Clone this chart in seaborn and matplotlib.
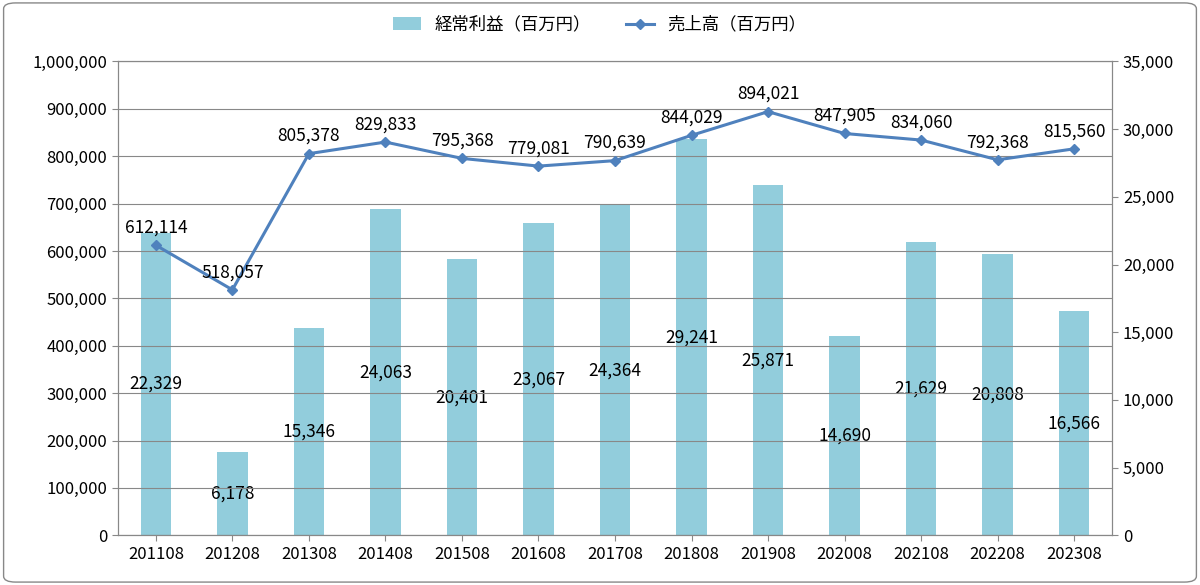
import matplotlib
matplotlib.use("Agg")
import matplotlib.pyplot as plt
from matplotlib.patches import FancyBboxPatch
from matplotlib.ticker import FuncFormatter
import seaborn as sns
import pandas as pd
import numpy as np

plt.rcParams['font.family'] = ['Noto Sans CJK JP', 'DejaVu Sans']

periods = ["201108", "201208", "201308", "201408", "201508", "201608", "201708",
           "201808", "201908", "202008", "202108", "202208", "202308"]
sales = [612114, 518057, 805378, 829833, 795368, 779081, 790639,
         844029, 894021, 847905, 834060, 792368, 815560]
profit = [22329, 6178, 15346, 24063, 20401, 23067, 24364,
          29241, 25871, 14690, 21629, 20808, 16566]

df = pd.DataFrame({"period": periods, "sales": sales, "profit": profit})
x = np.arange(len(periods))

fig = plt.figure(figsize=(12, 5.85), dpi=100)
ax = fig.add_axes([0.098, 0.085, 0.829, 0.81])
ax2 = ax.twinx()

sns.barplot(data=df, x="period", y="profit", ax=ax2, color="#92cddc",
            width=0.4, saturation=1, label="経常利益（百万円）")
if ax2.get_legend() is not None:
    ax2.get_legend().remove()
ax.plot(x, df["sales"], color="#4f81bd", lw=2.2, marker="D", ms=5,
        label="売上高（百万円）", zorder=5)

# put line axis on top of bars
ax.set_zorder(ax2.get_zorder() + 1)
ax.patch.set_visible(False)

ax.set_ylim(0, 1000000)
ax2.set_ylim(0, 35000)
ax.set_xlim(-0.5, len(periods) - 0.5)
ax.set_yticks(np.arange(0, 1000001, 100000))
ax2.set_yticks(np.arange(0, 35001, 5000))
fmt = FuncFormatter(lambda v, p: f"{int(v):,}")
ax.yaxis.set_major_formatter(fmt)
ax2.yaxis.set_major_formatter(fmt)
ax.set_xticks(x)
ax.set_xticklabels(periods)
for a in (ax, ax2):
    a.set_xlabel("")
    a.set_ylabel("")
    a.tick_params(labelsize=12, length=4, color="#888888")
    for s in a.spines.values():
        s.set_color("#888888")
ax.grid(axis="y", color="#888888", lw=0.8)
ax2.grid(False)

for i, v in enumerate(sales):
    ax.text(i, v + 18000, f"{v:,}", ha="center", va="bottom", fontsize=12.5, zorder=6)
for i, v in enumerate(profit):
    ax2.text(i, v / 2, f"{v:,}", ha="center", va="center", fontsize=12.5, zorder=6)

h1, l1 = ax2.get_legend_handles_labels()
h2, l2 = ax.get_legend_handles_labels()
fig.legend(h1 + h2, l1 + l2, loc="upper center", ncol=2, frameon=False,
           fontsize=12.5, bbox_to_anchor=(0.5, 1.0), handlelength=1.6)

fig.patches.append(FancyBboxPatch((0.003, 0.005), 0.994, 0.99, boxstyle="round,pad=0,rounding_size=0.01",
                                  transform=fig.transFigure, fill=False, ec="#888888", lw=1))
fig.savefig("out.png", dpi=100)
